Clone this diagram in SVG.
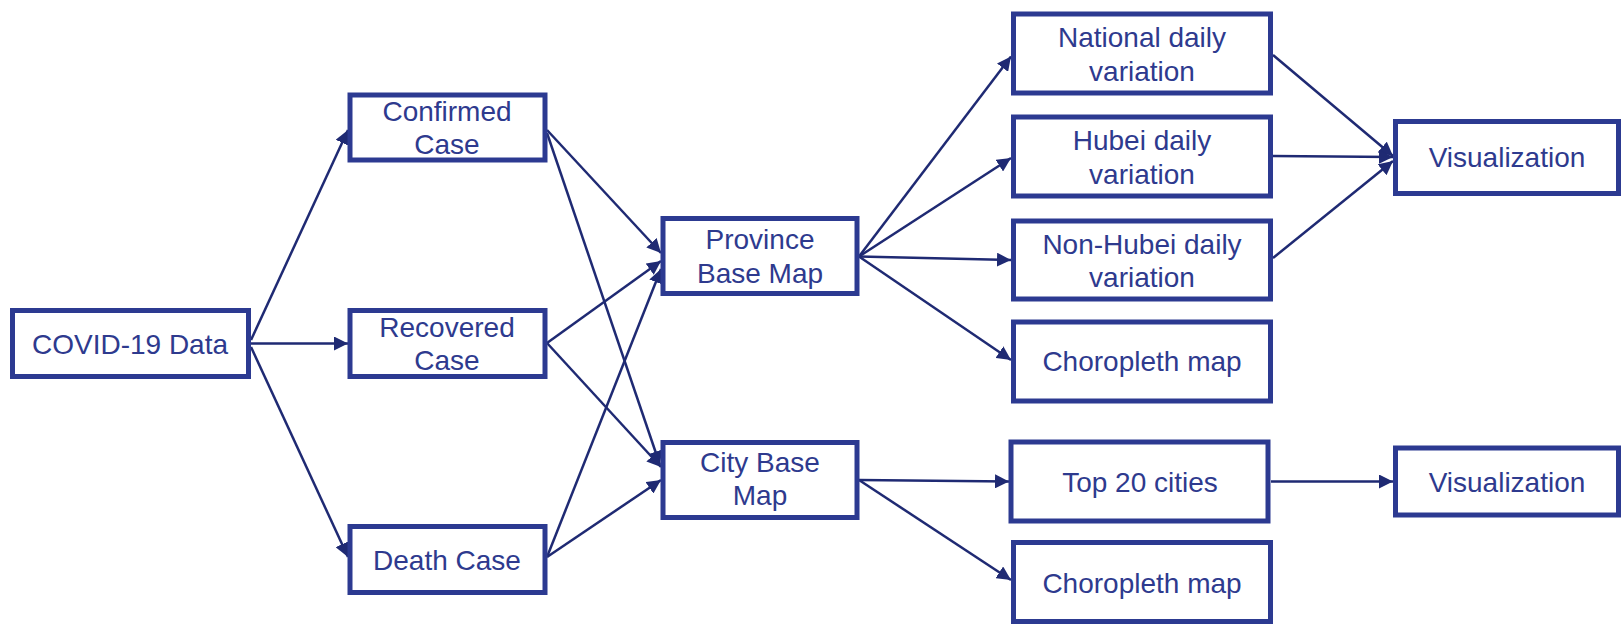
<svg xmlns="http://www.w3.org/2000/svg" width="1623" height="628" viewBox="0 0 1623 628">
<style>
.box{fill:#fff;stroke:#2C3A91;stroke-width:5}
.t{font-family:"Liberation Sans",Arial,sans-serif;font-size:28px;fill:#2E3A8E;text-anchor:middle}
.c{stroke:#1F2A73;stroke-width:2.5;fill:none;marker-end:url(#ah)}
</style>
<defs>
<marker id="ah" markerUnits="userSpaceOnUse" markerWidth="15" markerHeight="14" refX="14" refY="7" orient="auto">
<path d="M0,0 L14,7 L0,14 z" fill="#1F2A73"/>
</marker>
</defs>
<rect width="1623" height="628" fill="#fff"/>
<g id="connectors">
<line class="c" x1="251" y1="340" x2="348" y2="130"/>
<line class="c" x1="251" y1="343.5" x2="348" y2="343.5"/>
<line class="c" x1="251" y1="347" x2="348" y2="557"/>
<line class="c" x1="547" y1="130" x2="661" y2="253"/>
<line class="c" x1="547" y1="133" x2="660" y2="465"/>
<line class="c" x1="547" y1="343" x2="661" y2="261"/>
<line class="c" x1="547" y1="343" x2="661" y2="467"/>
<line class="c" x1="547" y1="557" x2="661" y2="269"/>
<line class="c" x1="547" y1="557" x2="661" y2="480"/>
<line class="c" x1="859" y1="256.5" x2="1011" y2="56.5"/>
<line class="c" x1="859" y1="256.5" x2="1011" y2="158"/>
<line class="c" x1="859" y1="256.5" x2="1011" y2="260"/>
<line class="c" x1="859" y1="256.5" x2="1011" y2="360"/>
<line class="c" x1="859" y1="480" x2="1009" y2="481.5"/>
<line class="c" x1="859" y1="480" x2="1011" y2="580"/>
<line class="c" x1="1273" y1="55" x2="1393" y2="156"/>
<line class="c" x1="1273" y1="156" x2="1393" y2="157"/>
<line class="c" x1="1273" y1="258" x2="1393" y2="161"/>
<line class="c" x1="1271" y1="481.5" x2="1393" y2="481.5"/>
</g>
<g id="covid"><rect class="box" x="12.5" y="310.5" width="236" height="66"/><text class="t" x="130" y="354">COVID-19 Data</text></g>
<g id="confirmed"><rect class="box" x="350" y="95" width="195" height="65"/><text class="t" x="447" y="120.5">Confirmed</text><text class="t" x="447" y="154">Case</text></g>
<g id="recovered"><rect class="box" x="350" y="310.5" width="195" height="66"/><text class="t" x="447" y="336.5">Recovered</text><text class="t" x="447" y="370">Case</text></g>
<g id="death"><rect class="box" x="350" y="526.5" width="195" height="66"/><text class="t" x="447" y="569.5">Death Case</text></g>
<g id="province"><rect class="box" x="663" y="218.5" width="194" height="75"/><text class="t" x="760" y="249">Province</text><text class="t" x="760" y="282.5">Base Map</text></g>
<g id="city"><rect class="box" x="663" y="442.5" width="194" height="75"/><text class="t" x="760" y="472">City Base</text><text class="t" x="760" y="505">Map</text></g>
<g id="national"><rect class="box" x="1013.5" y="14" width="257" height="79"/><text class="t" x="1142" y="46.5">National daily</text><text class="t" x="1142" y="80.5">variation</text></g>
<g id="hubei"><rect class="box" x="1013.5" y="117" width="257" height="79"/><text class="t" x="1142" y="149.5">Hubei daily</text><text class="t" x="1142" y="183.5">variation</text></g>
<g id="nonhubei"><rect class="box" x="1013.5" y="221" width="257" height="78"/><text class="t" x="1142" y="253.5">Non-Hubei daily</text><text class="t" x="1142" y="287">variation</text></g>
<g id="choropleth1"><rect class="box" x="1013.5" y="322" width="257" height="79"/><text class="t" x="1142" y="371">Choropleth map</text></g>
<g id="top20"><rect class="box" x="1011" y="442" width="257" height="79"/><text class="t" x="1140" y="491.5">Top 20 cities</text></g>
<g id="choropleth2"><rect class="box" x="1013.5" y="542.5" width="257" height="79"/><text class="t" x="1142" y="592.5">Choropleth map</text></g>
<g id="vis1"><rect class="box" x="1395.5" y="121.5" width="223" height="72"/><text class="t" x="1507" y="166.5">Visualization</text></g>
<g id="vis2"><rect class="box" x="1395.5" y="448" width="223" height="67"/><text class="t" x="1507" y="491.5">Visualization</text></g>
</svg>
